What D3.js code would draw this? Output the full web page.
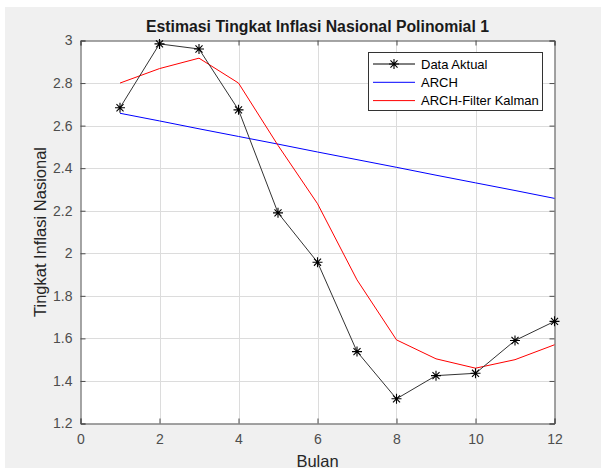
<!DOCTYPE html>
<html><head><meta charset="utf-8">
<script src="https://cdn.jsdelivr.net/npm/d3@7"></script>
<style>html,body{margin:0;padding:0;background:#fff;}svg{display:block;}</style>
</head><body>
<script>
const bulan = [1,2,3,4,5,6,7,8,9,10,11,12];
const dataAktual = [2.684,2.984,2.96,2.674,2.19,1.958,1.538,1.316,1.425,1.436,1.59,1.68];
const arch = [2.658,2.622,2.585,2.549,2.513,2.476,2.44,2.404,2.367,2.331,2.295,2.258];
const kalman = [2.80,2.868,2.917,2.80,2.507,2.233,1.875,1.593,1.504,1.46,1.50,1.57];
const xTicks = [0,2,4,6,8,10,12];
const yTicks = [1.2,1.4,1.6,1.8,2,2.2,2.4,2.6,2.8,3];
const seriesNames = ["Data Aktual","ARCH","ARCH-Filter Kalman"];
const seriesColors = ["#000000","#0000ff","#ff0000"];

const W=601,H=471;
const svg=d3.select("body").append("svg").attr("width",W).attr("height",H);
svg.append("rect").attr("x",5).attr("y",7).attr("width",W-5).attr("height",461).attr("fill","#f0f0f0");
const L=80.5,R=554.5,T=40.5,B=423.5;
const x=d3.scaleLinear().domain([0,12]).range([L,R]);
const y=d3.scaleLinear().domain([1.2,3]).range([B,T]);
svg.append("rect").attr("x",L).attr("y",T).attr("width",R-L).attr("height",B-T).attr("fill","#fff");
const font="Liberation Sans, Arial, Helvetica, sans-serif";
// grid
const g=svg.append("g");
g.selectAll(".gx").data(xTicks.slice(1,-1)).enter().append("line")
 .attr("x1",d=>Math.round(x(d))+0.5).attr("x2",d=>Math.round(x(d))+0.5).attr("y1",T).attr("y2",B)
 .attr("stroke","#dcdcdc").attr("stroke-width",1);
g.selectAll(".gy").data(yTicks.slice(1,-1)).enter().append("line")
 .attr("y1",d=>Math.round(y(d))+0.5).attr("y2",d=>Math.round(y(d))+0.5).attr("x1",L).attr("x2",R)
 .attr("stroke","#dcdcdc").attr("stroke-width",1);
// axes
const axC="#4d4d4d";
const ax=d3.axisBottom(x).tickValues(xTicks).tickSize(-5).tickPadding(11).tickFormat(d3.format("d"));
const ay=d3.axisLeft(y).tickValues(yTicks).tickSize(-5).tickPadding(8).tickFormat(d=>String(+d.toFixed(1)));
const gxA=svg.append("g").attr("transform",`translate(0,${B})`).call(ax);
const gyA=svg.append("g").attr("transform",`translate(${L},0)`).call(ay);
const gxT=svg.append("g").attr("transform",`translate(0,${T})`).call(d3.axisTop(x).tickValues(xTicks).tickSize(-5).tickFormat(""));
const gyR=svg.append("g").attr("transform",`translate(${R},0)`).call(d3.axisRight(y).tickValues(yTicks).tickSize(-5).tickFormat(""));
[gxA,gyA,gxT,gyR].forEach(a=>{
  a.select(".domain").attr("stroke",axC);
  a.selectAll(".tick line").attr("stroke",axC);
  a.selectAll("text").attr("fill","#4d4d4d").attr("font-family",font).attr("font-size",14);
});
// lines
const line=d3.line().x((d,i)=>x(bulan[i])).y(d=>y(d));
svg.append("path").datum(arch).attr("d",line).attr("fill","none").attr("stroke",seriesColors[1]).attr("stroke-width",1);
svg.append("path").datum(kalman).attr("d",line).attr("fill","none").attr("stroke",seriesColors[2]).attr("stroke-width",1);
svg.append("path").datum(dataAktual).attr("d",line).attr("fill","none").attr("stroke","#333").attr("stroke-width",1);
function star(sel,cx,cy,r){
  const a=r*0.7071;
  const p=`M${cx-r},${cy}L${cx+r},${cy}M${cx},${cy-r}L${cx},${cy+r}M${cx-a},${cy-a}L${cx+a},${cy+a}M${cx-a},${cy+a}L${cx+a},${cy-a}`;
  sel.append("path").attr("d",p).attr("stroke","#000").attr("stroke-width",1.1).attr("fill","none");
}
const mk=svg.append("g");
dataAktual.forEach((d,i)=>star(mk,x(bulan[i]),y(d),5));
// title
svg.append("text").attr("x",(L+R)/2).attr("y",31.5).attr("text-anchor","middle")
 .attr("font-family",font).attr("font-weight","bold").attr("font-size",15.8).attr("fill","#1a1a1a")
 .text("Estimasi Tingkat Inflasi Nasional Polinomial 1");
svg.append("text").attr("x",(L+R)/2).attr("y",467).attr("text-anchor","middle")
 .attr("font-family",font).attr("font-size",16.5).attr("fill","#262626").text("Bulan");
svg.append("text").attr("transform",`translate(46,${(T+B)/2}) rotate(-90)`).attr("text-anchor","middle")
 .attr("font-family",font).attr("font-size",16.5).attr("fill","#262626").text("Tingkat Inflasi Nasional");
// legend
const lg=svg.append("g");
lg.append("rect").attr("x",368.5).attr("y",52.5).attr("width",174).attr("height",58).attr("fill","#fff").attr("stroke","#333").attr("stroke-width",1);
seriesNames.forEach((n,i)=>{
  const yy=64+i*18.3;
  lg.append("line").attr("x1",373).attr("x2",415).attr("y1",yy).attr("y2",yy).attr("stroke",seriesColors[i]).attr("stroke-width",1);
  if(i===0) star(lg,394,yy,5);
  lg.append("text").attr("x",421).attr("y",yy+4.5).attr("font-family",font).attr("font-size",13).attr("fill","#000").text(n);
});
</script>
</body></html>
